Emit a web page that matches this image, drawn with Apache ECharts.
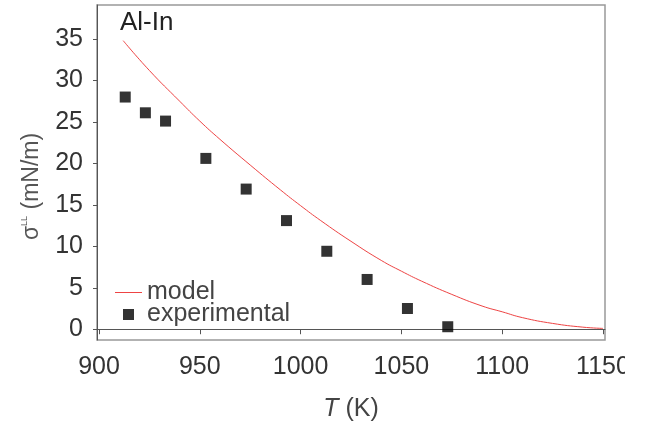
<!DOCTYPE html>
<html>
<head>
<meta charset="utf-8">
<script src="https://cdn.jsdelivr.net/npm/echarts@6/dist/echarts.min.js"></script>
<style>
html,body{margin:0;padding:0;background:#fff;}
#c{width:625px;height:427px;overflow:hidden;}
</style>
</head>
<body>
<div id="c"></div>
<script>
// Experimental data
var expT = [913, 923, 933, 953, 973, 993, 1013, 1033, 1053, 1073];
var expSigma = [28.0, 26.1, 25.1, 20.6, 16.9, 13.1, 9.4, 6.0, 2.5, 0.3];
// Model curve
var modelT = [912, 925, 940, 950, 960, 975, 990, 1000, 1010, 1025, 1040, 1050, 1060, 1075, 1090, 1100, 1110, 1125, 1140, 1150];
var modelSigma = [34.8, 31.2, 27.5, 25.1, 22.9, 19.8, 16.8, 14.9, 13.1, 10.6, 8.3, 7.0, 5.8, 4.2, 2.8, 2.1, 1.4, 0.7, 0.25, 0.1];
// Tick labels
var xTicks = [900, 950, 1000, 1050, 1100, 1150];
var yTicks = [0, 5, 10, 15, 20, 25, 30, 35];

var chart = echarts.init(document.getElementById('c'), null, {renderer: 'canvas'});
var font = 'Liberation Sans, Arial, sans-serif';
var fs = 25;
chart.setOption({
  animation: false,
  backgroundColor: '#fff',
  title: {
    text: 'Al-In', left: 115, top: 5,
    textStyle: {fontFamily: font, fontSize: 26, fontWeight: 'normal', color: '#222'}
  },
  grid: {left: 97, top: 5, right: 20, bottom: 87, outerBoundsMode: 'none', containLabel: false,
    show: true, borderColor: '#999', borderWidth: 1.5, backgroundColor: 'transparent'},
  legend: {
    orient: 'vertical', left: 110, top: 275, itemWidth: 27, itemHeight: 11, itemGap: -3,
    textStyle: {fontFamily: font, fontSize: fs, color: '#444'},
    data: [
      {name: 'model', icon: 'path://M0,0L27,0L27,1L0,1Z'},
      {name: 'experimental', icon: 'path://M0,0L11,0L11,11L0,11Z'}
    ]
  },
  xAxis: {
    type: 'value', min: 899, max: 1151,
    name: '{i|T} (K)', nameLocation: 'middle', nameGap: 57,
    nameTextStyle: {fontFamily: font, fontSize: fs, color: '#444',
      rich: {i: {fontFamily: font, fontSize: fs, fontStyle: 'italic', color: '#444'}}},
    axisLine: {show: true, lineStyle: {color: '#555', width: 1}},
    axisTick: {show: true, length: 5, lineStyle: {color: '#555'}, customValues: xTicks},
    axisLabel: {fontFamily: font, fontSize: fs, color: '#333', margin: 15, customValues: xTicks,
      formatter: function (v) { return String(v); }},
    splitLine: {show: false}
  },
  yAxis: {
    type: 'value', min: -1.3, max: 39.1,
    name: '{s|σ}{sup|LL} (mN/m)', nameLocation: 'middle', nameGap: 54,
    nameTextStyle: {fontFamily: font, fontSize: 23, color: '#555', padding: [0, 0, 0, -28],
      rich: {s: {fontFamily: font, fontSize: 23, color: '#555'},
             sup: {fontFamily: font, fontSize: 9, color: '#555', padding: [0, 0, 14, 0]}}},
    axisLine: {show: true, lineStyle: {color: '#555', width: 1}},
    axisTick: {show: true, length: 4, lineStyle: {color: '#555'}, customValues: yTicks},
    axisLabel: {fontFamily: font, fontSize: fs, color: '#333', margin: 14, customValues: yTicks},
    splitLine: {show: false}
  },
  series: [
    {
      name: 'model', type: 'line', smooth: true, symbol: 'none',
      lineStyle: {color: '#ee4444', width: 1},
      itemStyle: {color: '#ee4444'},
      data: modelT.map(function (t, i) { return [t, modelSigma[i]]; })
    },
    {
      name: 'experimental', type: 'scatter', symbol: 'rect', symbolSize: 11,
      itemStyle: {color: '#000'},
      data: expT.map(function (t, i) { return [t, expSigma[i]]; })
    }
  ]
});
</script>
</body>
</html>
